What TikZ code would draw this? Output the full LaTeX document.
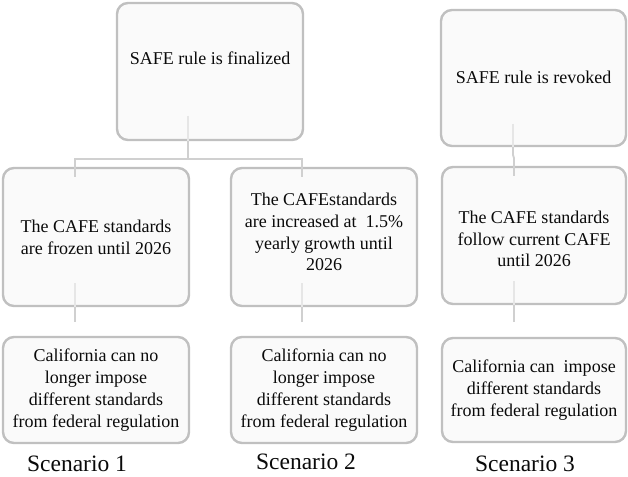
\documentclass[tikz,border=0pt]{standalone}
\usepackage{fontspec}
\setmainfont{Liberation Serif}
\definecolor{boxgray}{RGB}{192,192,192}
\definecolor{boxfill}{RGB}{250,250,250}
\definecolor{linegray}{RGB}{208,208,208}
\definecolor{ghostgray}{RGB}{230,230,230}
\definecolor{txt}{RGB}{10,10,10}
\tikzset{
  box/.style={draw=boxgray, line width=2.4bp, fill=boxfill, rounded corners=11bp, inner sep=0pt,
    minimum width=186bp},
  words/.style={align=center, inner sep=0pt, text=txt, font=\rmfamily\fontsize{18bp}{21.8bp}\selectfont},
  scen/.style={inner sep=0pt, text=txt, font=\rmfamily\fontsize{23.5bp}{26bp}\selectfont},
  conn/.style={draw=linegray, line width=1.8bp},
  ghost/.style={draw=ghostgray, line width=1.2bp}
}
\begin{document}
\begin{tikzpicture}[x=1bp,y=-1bp]
\useasboundingbox[fill=white] (0,0) rectangle (628,477);

% boxes
\node[box, minimum height=137bp] (t1) at (210,71.5) {};
\node[box, minimum width=185bp, minimum height=136bp] (t3) at (533.5,78) {};
\node[box, minimum height=138bp] (mA) at (96,237) {};
\node[box, minimum height=138bp] (mB) at (324,237) {};
\node[box, minimum width=184bp, minimum height=137bp] (mC) at (534,235.5) {};
\node[box, minimum height=106bp] (bA) at (96,390) {};
\node[box, minimum height=106bp] (bB) at (324,390) {};
\node[box, minimum width=184bp, minimum height=104bp] (bC) at (534,390) {};

% texts
\node[words] (t1txt) at (210,58) {SAFE rule is finalized};
\node[words] (t3txt) at (533.5,77) {SAFE rule is revoked};
\node[words] (mAtxt) at (96,237) {The CAFE standards\\are frozen until 2026};
\node[words] (mBtxt) at (324,232) {The CAFEstandards\\are increased at \ 1.5\%\\yearly growth until\\2026};
\node[words] (mCtxt) at (534,239) {The CAFE standards\\follow current CAFE\\until 2026};
\node[words] (bAtxt) at (96,390) {California can no\\longer impose\\different standards\\from federal regulation};
\node[words] (bBtxt) at (324,390) {California can no\\longer impose\\different standards\\from federal regulation};
\node[words] (bCtxt) at (534,390) {California can \ impose\\different standards\\from federal regulation};
\node[scen] (sc1) at (77,464) {Scenario 1};
\node[scen] (sc2) at (306,462) {Scenario 2};
\node[scen] (sc3) at (525,464) {Scenario 3};

% connector points
\coordinate (s1) at (188,116);
\coordinate (s1b) at (t1.south -| s1);
\coordinate (j1) at (188,159);
\coordinate (jA) at (75,159);
\coordinate (jB) at (302,159);
\coordinate (eA) at (75,177);
\coordinate (eB) at (302,177);
\coordinate (s3) at (513,124);
\coordinate (s3b) at (t3.south -| s3);
\coordinate (k1) at (513,155);
\coordinate (k2) at (514,158);
\coordinate (eC) at (514,176);
\coordinate (sA) at (75,283);
\coordinate (sB) at (302,283);
\coordinate (sC) at (514,281);
\coordinate (sAb) at (mA.south -| sA);
\coordinate (sBb) at (mB.south -| sB);
\coordinate (sCb) at (mC.south -| sC);
\coordinate (fA) at (75,322);
\coordinate (fB) at (302,322);
\coordinate (fC) at (514,322);

% connectors: faint inside the boxes, stronger between them
\draw[ghost] (s1) -- (s1b);
\draw[conn] (s1b) -- (j1);
\draw[conn] (eA) -- (jA) -- (jB) -- (eB);
\draw[ghost] (s3) -- (s3b);
\draw[conn] (s3b) -- (k1) -- (k2) -- (eC);
\draw[ghost] (sA) -- (sAb);
\draw[ghost] (sB) -- (sBb);
\draw[ghost] (sC) -- (sCb);
\draw[conn] (sAb) -- (fA);
\draw[conn] (sBb) -- (fB);
\draw[conn] (sCb) -- (fC);
\end{tikzpicture}
\end{document}
